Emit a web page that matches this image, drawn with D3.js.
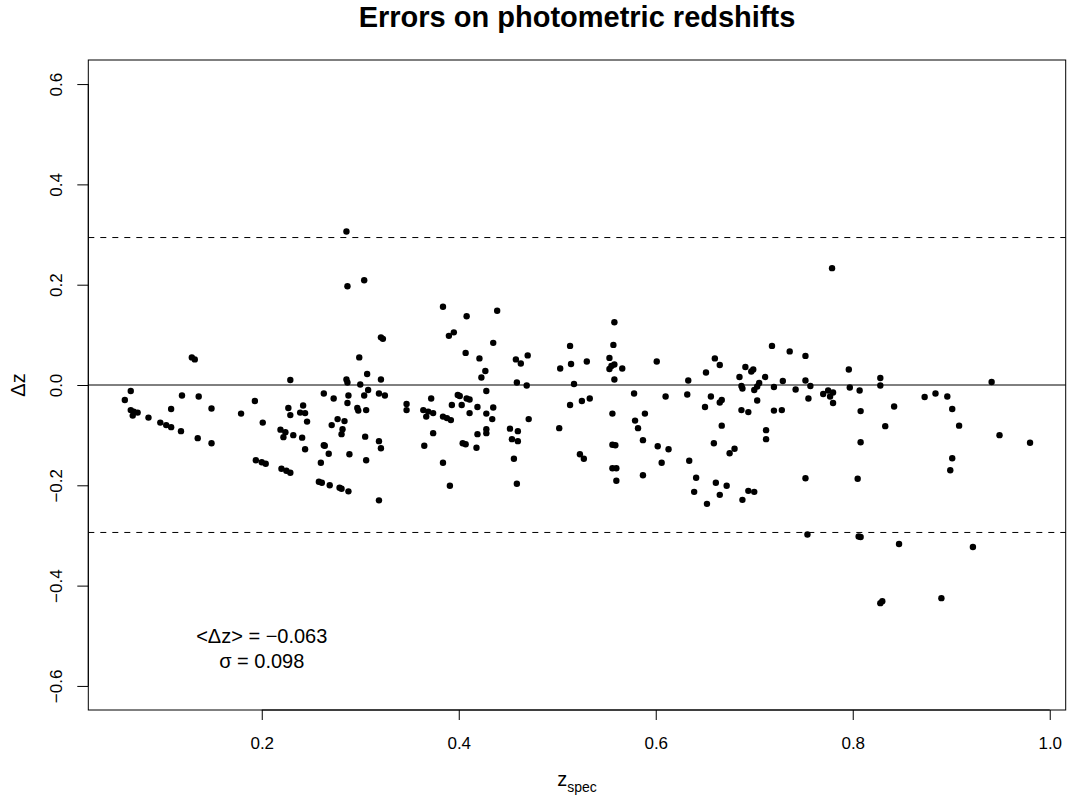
<!DOCTYPE html>
<html><head><meta charset="utf-8">
<script src="https://cdn.jsdelivr.net/npm/d3@7"></script>
<style>body{margin:0;background:#fff}</style>
</head><body><svg id="chart" width="1073" height="798"></svg>
<script>
// spectroscopic redshift of each galaxy
const zspec = [
  0.129,0.132,0.067,0.061,0.067,0.070,0.074,0.069,0.119,0.136,0.149,0.108,0.179,0.193,0.229,0.227,0.085,0.097,0.103,0.108,0.118,0.135,0.149,0.201,0.194,0.200,0.204,0.220,0.225,0.229,0.219,0.224,0.232,0.222,
  0.286,0.287,0.304,0.321,0.323,0.299,0.286,0.287,0.300,0.307,0.321,0.263,0.273,0.288,0.304,0.308,0.319,0.325,0.242,0.239,0.244,0.287,0.297,0.298,0.306,0.347,0.347,0.364,0.369,0.374,0.372,0.384,0.390,0.395,0.408,0.407,0.421,0.423,0.393,0.403,0.399,0.401,0.408,0.411,0.419,0.411,0.229,0.246,0.241,0.244,0.263,0.264,0.268,0.260,0.258,0.261,0.269,0.279,0.281,0.288,0.319,0.271,0.277,0.284,0.282,0.281,0.305,0.319,0.321,0.289,0.306,0.367,0.384,0.388,0.392,0.419,0.418,0.404,0.407,0.374,0.365,0.384,0.391,
  0.439,0.435,0.427,0.428,0.435,0.428,0.458,0.463,0.470,0.459,0.469,0.503,0.513,0.514,0.517,0.530,0.513,0.525,0.533,0.558,0.557,0.553,0.558,0.555,0.553,0.566,0.558,0.556,0.578,0.601,0.589,0.610,0.434,0.428,0.428,0.452,0.454,0.460,0.460,0.471,0.456,0.459,0.502,0.523,0.527,0.556,0.559,0.556,0.560,0.560,0.579,0.582,0.587,0.587,0.602,0.606,0.613,
  0.779,0.718,0.736,0.752,0.660,0.665,0.651,0.691,0.699,0.697,0.685,0.711,0.633,0.632,0.656,0.687,0.688,0.705,0.703,0.700,0.720,0.729,0.742,0.752,0.757,0.703,0.755,0.796,0.797,0.807,0.770,0.775,0.777,0.780,0.780,0.650,0.665,0.667,0.687,0.694,0.720,0.728,0.808,0.667,0.659,0.675,0.680,0.634,0.712,0.712,0.808,0.641,0.639,0.652,0.661,0.672,0.665,0.688,0.694,0.700,0.752,0.805,0.754,0.806,0.808,
  0.828,0.828,0.941,0.842,0.873,0.884,0.896,0.901,0.833,0.908,0.949,0.980,0.901,0.899,0.847,0.922,0.828,0.830,0.890
];
// photo-z error, delta z
const deltaZ = [
  0.055,0.051,-0.012,-0.030,-0.050,-0.053,-0.055,-0.061,-0.021,-0.023,-0.047,-0.048,-0.057,-0.032,0.010,-0.046,-0.065,-0.075,-0.080,-0.084,-0.092,-0.106,-0.116,-0.075,-0.150,-0.154,-0.157,-0.167,-0.171,-0.175,-0.089,-0.094,-0.100,-0.104,
  0.306,0.197,0.209,0.095,0.092,0.055,0.011,0.005,0.001,0.022,0.011,-0.017,-0.027,-0.021,-0.021,-0.010,-0.017,-0.021,-0.041,-0.055,-0.056,-0.036,-0.046,-0.051,-0.050,-0.038,-0.050,-0.050,-0.053,-0.056,-0.027,0.156,0.098,0.105,0.137,0.064,0.053,0.015,-0.040,-0.040,-0.020,-0.022,-0.027,-0.029,-0.044,-0.056,-0.060,-0.073,-0.105,-0.128,-0.120,-0.121,-0.137,-0.155,-0.193,-0.195,-0.200,-0.205,-0.207,-0.212,-0.230,-0.080,-0.068,-0.072,-0.088,-0.098,-0.103,-0.112,-0.126,-0.138,-0.150,-0.063,-0.063,-0.066,-0.070,-0.098,-0.125,-0.116,-0.118,-0.096,-0.121,-0.155,-0.201,
  0.148,0.084,0.028,-0.012,-0.045,-0.057,0.051,0.043,0.059,0.005,-0.001,0.033,0.078,0.042,0.002,0.047,-0.040,-0.032,-0.027,0.125,0.080,0.054,0.041,0.038,0.032,0.033,0.011,-0.057,-0.017,0.047,-0.057,-0.023,-0.068,-0.088,-0.096,-0.087,-0.108,-0.112,-0.092,-0.068,-0.147,-0.197,-0.086,-0.138,-0.147,-0.119,-0.120,-0.166,-0.166,-0.191,-0.071,-0.086,-0.110,-0.180,-0.122,-0.155,-0.128,
  0.233,0.078,0.067,0.058,0.053,0.040,0.025,0.036,0.031,0.027,0.016,0.016,0.009,-0.019,-0.023,-0.002,-0.007,0.004,-0.003,-0.010,-0.004,0.008,-0.009,0.009,-0.002,-0.031,-0.027,0.031,-0.005,-0.011,-0.018,-0.011,-0.023,-0.015,-0.036,-0.044,-0.035,-0.030,-0.050,-0.054,-0.051,-0.050,-0.052,-0.081,-0.116,-0.136,-0.127,-0.151,-0.090,-0.108,-0.114,-0.185,-0.213,-0.237,-0.195,-0.201,-0.219,-0.229,-0.211,-0.213,-0.186,-0.187,-0.298,-0.302,-0.303,
  0.014,-0.001,0.006,-0.043,-0.024,-0.017,-0.023,-0.048,-0.082,-0.081,-0.100,-0.115,-0.146,-0.170,-0.317,-0.323,-0.435,-0.431,-0.425
];
const xTicks = [0.2, 0.4, 0.6, 0.8, 1.0];
const yTicks = [-0.6, -0.4, -0.2, 0.0, 0.2, 0.4, 0.6];
const meanDz = -0.063;
const sigmaDz = 0.098;
const outlierLimits = [0.294, -0.294];   // ±3σ
const annotationPos = [[0.2, -0.5], [0.2, -0.55]];
const xDomain = [0.0239, 1.0162];
const yDomain = [-0.648, 0.648];

const points = zspec.map((z, i) => ({z, dz: deltaZ[i]}));
const FONT = "'Liberation Sans', Arial, Helvetica, sans-serif";
const fmt = v => d3.format(".1f")(v).replace("-", "\u2212");

const L = 88.3, R = 1065.7, T = 60, B = 710;
const x = d3.scaleLinear().domain(xDomain).range([L, R]);
const y = d3.scaleLinear().domain(yDomain).range([B, T]);

const svg = d3.select("#chart");
svg.append("rect").attr("width", 1073).attr("height", 798).attr("fill", "#fff");

// title
svg.append("text").attr("x", (L + R) / 2).attr("y", 27)
  .attr("text-anchor", "middle").attr("font-family", FONT)
  .attr("font-weight", "bold").attr("font-size", 29)
  .text("Errors on photometric redshifts");

// x axis
const gx = svg.append("g").attr("transform", `translate(0,${B})`)
  .call(d3.axisBottom(x).tickValues(xTicks).tickSize(10).tickFormat(fmt));
gx.select(".domain").remove();
gx.selectAll(".tick line").attr("stroke", "#000");
gx.selectAll(".tick text").attr("y", 39).attr("dy", null)
  .attr("font-family", FONT).attr("font-size", 17).attr("fill", "#000");
gx.append("line").attr("x1", x(xTicks[0])).attr("x2", x(xTicks[xTicks.length - 1]))
  .attr("stroke", "#000");

// y axis
const gy = svg.append("g").attr("transform", `translate(${L},0)`)
  .call(d3.axisLeft(y).tickValues(yTicks).tickSize(11).tickFormat(fmt));
gy.select(".domain").remove();
gy.selectAll(".tick line").attr("stroke", "#000");
gy.selectAll(".tick text").attr("x", null).attr("dy", null)
  .attr("text-anchor", "middle")
  .attr("transform", "translate(-26,0) rotate(-90)")
  .attr("font-family", FONT).attr("font-size", 17).attr("fill", "#000");
gy.append("line").attr("y1", y(yTicks[0])).attr("y2", y(yTicks[yTicks.length - 1]))
  .attr("stroke", "#000");

// axis titles
const xt = svg.append("text").attr("x", (L + R) / 2).attr("y", 786)
  .attr("text-anchor", "middle").attr("font-family", FONT).attr("font-size", 20);
xt.append("tspan").text("z");
xt.append("tspan").attr("font-size", 14).attr("dy", 6).text("spec");

svg.append("text").attr("transform", `translate(25,${(T + B) / 2}) rotate(-90)`)
  .attr("text-anchor", "middle").attr("font-family", FONT).attr("font-size", 20)
  .text("\u0394z");

// box
svg.append("rect").attr("x", L).attr("y", T).attr("width", R - L).attr("height", B - T)
  .attr("fill", "none").attr("stroke", "#000");

// reference lines
svg.append("line").attr("x1", L).attr("x2", R).attr("y1", y(0)).attr("y2", y(0))
  .attr("stroke", "#000");
svg.selectAll(".lim").data(outlierLimits).enter().append("line")
  .attr("x1", L).attr("x2", R).attr("y1", d => y(d)).attr("y2", d => y(d))
  .attr("stroke", "#000").attr("stroke-dasharray", "6,6");

// points
svg.append("g").selectAll("circle").data(points).enter().append("circle")
  .attr("cx", d => x(d.z)).attr("cy", d => y(d.dz)).attr("r", 3.2).attr("fill", "#000");

// annotations
const notes = [`<\u0394z> = ${meanDz.toFixed(3).replace("-", "\u2212")}`, `\u03c3 = ${sigmaDz.toFixed(3)}`];
svg.selectAll(".note").data(notes).enter().append("text")
  .attr("x", (d, i) => x(annotationPos[i][0])).attr("y", (d, i) => y(annotationPos[i][1]) + 7)
  .attr("text-anchor", "middle").attr("font-family", FONT).attr("font-size", 20)
  .text(d => d);
</script></body></html>
